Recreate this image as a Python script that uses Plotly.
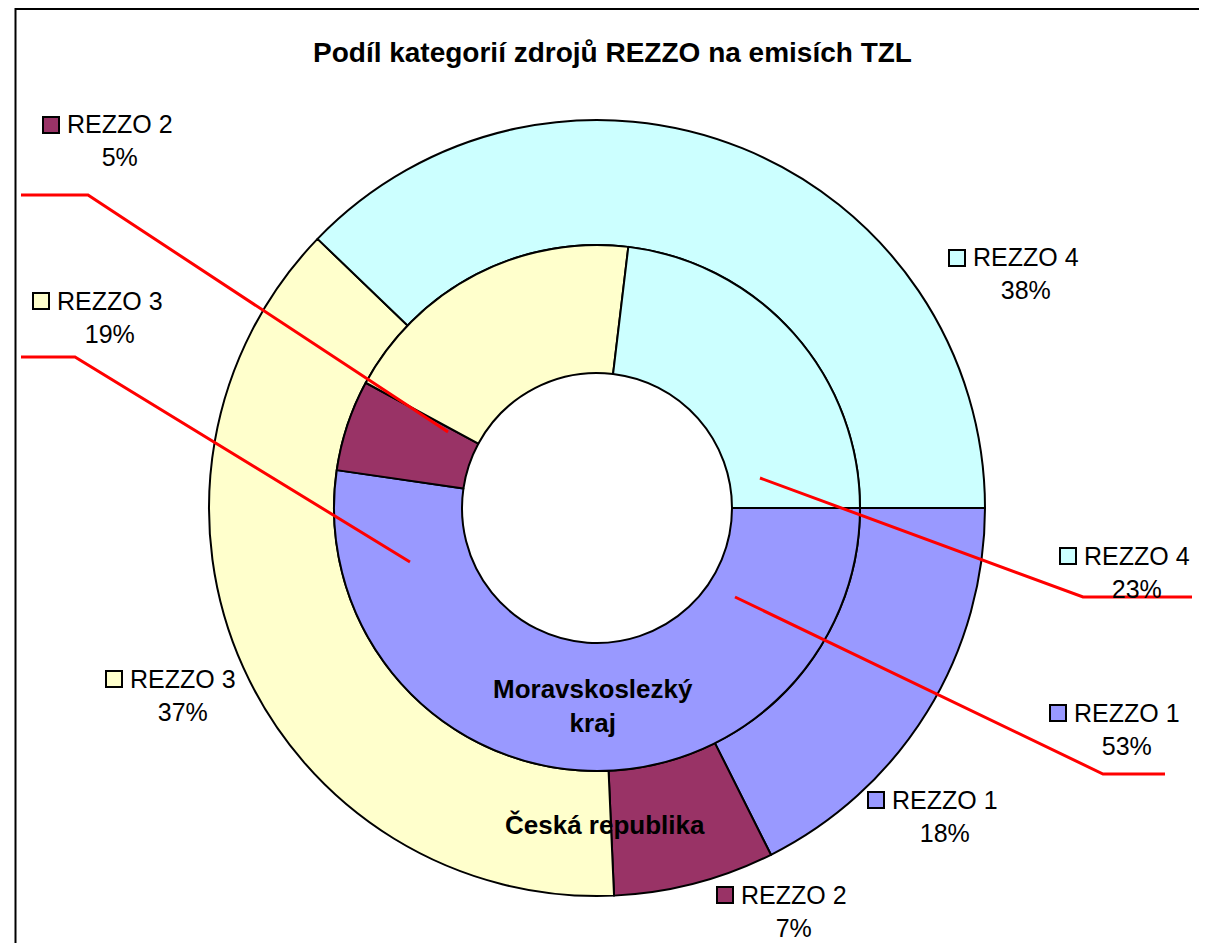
import plotly.graph_objects as go

# ---- data ----
categories = ["REZZO 1", "REZZO 2", "REZZO 3", "REZZO 4"]
cr_values = [17.6, 6.7, 37.9, 37.8]      # Česká republika (outer ring)
msk_values = [52.3, 5.6, 19.0, 23.1]     # Moravskoslezký kraj (inner ring)
cr_pct_labels = ["18%", "7%", "37%", "38%"]     # percentages as printed on the chart
msk_pct_labels = ["53%", "5%", "19%", "23%"]
colors = ["#9999FF", "#993366", "#FFFFCC", "#CCFFFF"]
title_text = "Podíl kategorií zdrojů REZZO na emisích TZL"
outer_name = "Česká republika"
inner_name = "Moravskoslezký<br>kraj"

# ---- layout helpers (page pixels -> paper) ----
W, H = 1199, 935
OX, OY = 8, 8
def px(x):
    return (x - OX) / W
def py(y):
    return 1 - (y - OY) / H

CX, CY = 597, 508
R_OUT, R_MID, R_HOLE = 388, 263, 135
FONT = "Liberation Sans, Arial, sans-serif"

fig = go.Figure()
fig.add_trace(go.Pie(
    labels=categories, values=cr_values, sort=False, direction="clockwise",
    rotation=90, hole=R_MID / R_OUT, textinfo="none", name=outer_name,
    marker=dict(colors=colors, line=dict(color="black", width=2)),
    domain=dict(x=[px(CX - R_OUT), px(CX + R_OUT)], y=[py(CY + R_OUT), py(CY - R_OUT)]),
    showlegend=False,
))
fig.add_trace(go.Pie(
    labels=categories, values=msk_values, sort=False, direction="clockwise",
    rotation=90, hole=R_HOLE / R_MID, textinfo="none", name="Moravskoslezký kraj",
    marker=dict(colors=colors, line=dict(color="black", width=2)),
    domain=dict(x=[px(CX - R_MID), px(CX + R_MID)], y=[py(CY + R_MID), py(CY - R_MID)]),
    showlegend=False,
))

# label positions (text centre of first line, page px): (x, y)
inner_pos = [(1127, 713), (120, 125), (110, 301), (1137, 556)]
outer_pos = [(945, 800), (794, 895), (183, 679), (1026, 258)]

annotations = []
shapes = []

# frame
shapes.append(dict(type="rect", xref="paper", yref="paper",
                   x0=px(15.5), x1=px(1240), y0=py(970), y1=py(9),
                   line=dict(color="black", width=2), fillcolor="rgba(0,0,0,0)", layer="below"))

# leader lines (red)
lines = [
    [(21, 195), (88, 195), (448, 432)],
    [(21, 357), (75, 357), (410, 562)],
    [(760, 478), (1083, 597), (1192, 597)],
    [(735, 597), (1103, 774), (1165, 774)],
]
for pts in lines:
    path = "M " + " L ".join(f"{px(x)},{py(y)}" for x, y in pts)
    shapes.append(dict(type="path", xref="paper", yref="paper", path=path,
                       line=dict(color="#FF0000", width=3)))

def add_label(cat, pct, color, pos):
    x, y = pos
    annotations.append(dict(
        x=px(x), y=py(y + 16), xref="paper", yref="paper", xanchor="center", yanchor="middle",
        text=f"{cat}<br>{pct}", showarrow=False, align="center",
        font=dict(family=FONT, size=25, color="black"),
    ))
    sx = x - 69
    shapes.append(dict(type="rect", xref="paper", yref="paper",
                       x0=px(sx - 8), x1=px(sx + 8), y0=py(y + 8), y1=py(y - 8),
                       fillcolor=color, line=dict(color="black", width=2)))

for cat, pct, col, pos in zip(categories, msk_pct_labels, colors, inner_pos):
    add_label(cat, pct, col, pos)
for cat, pct, col, pos in zip(categories, cr_pct_labels, colors, outer_pos):
    add_label(cat, pct, col, pos)

# title and ring names
annotations.append(dict(x=px(612), y=py(52), xref="paper", yref="paper", showarrow=False,
                        xanchor="center", yanchor="middle",
                        text=f"<b>{title_text}</b>", font=dict(family=FONT, size=28, color="black")))
annotations.append(dict(x=px(593), y=py(706), xref="paper", yref="paper", showarrow=False,
                        xanchor="center", yanchor="middle",
                        text=f"<b>{inner_name}</b>", font=dict(family=FONT, size=26, color="black")))
annotations.append(dict(x=px(605), y=py(825), xref="paper", yref="paper", showarrow=False,
                        xanchor="center", yanchor="middle",
                        text=f"<b>{outer_name}</b>", font=dict(family=FONT, size=26, color="black")))

fig.update_layout(
    width=W, height=H, margin=dict(l=0, r=0, t=0, b=0),
    paper_bgcolor="white", plot_bgcolor="white",
    annotations=annotations, shapes=shapes,
)

fig.write_html("out.html")
